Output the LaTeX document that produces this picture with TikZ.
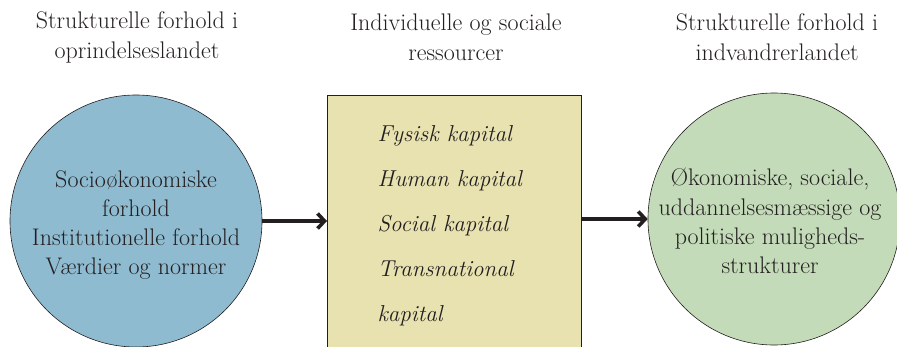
\documentclass[tikz,border=0pt]{standalone}
\usepackage{fontspec}
\usetikzlibrary{arrows.meta}
\definecolor{cblue}{HTML}{8FBBD1}
\definecolor{cyell}{HTML}{E8E2B0}
\definecolor{cgreen}{HTML}{C3DBB8}
\definecolor{ink}{HTML}{231F20}
\begin{document}
\begin{tikzpicture}[x=1pt,y=-1pt,
  heading/.style={align=center,font=\fontsize{24}{30}\selectfont,text=ink},
  bigcirc/.style={circle,draw=ink,line width=0.6pt,minimum size=252pt,inner sep=0pt},
  ctext/.style={align=center,font=\fontsize{24}{29.2}\selectfont,text=ink},
  conn/.style={line width=3.6pt,draw=ink,-{Straight Barb[length=7pt,width=15pt]}}]
\useasboundingbox (0,0) rectangle (897,346);
\clip (0,0) rectangle (897,346);
\node[heading] (h1) at (137,37) {Strukturelle forhold i\\oprindelseslandet};
\node[heading] (h2) at (456,37) {Individuelle og sociale\\ressourcer};
\node[heading] (h3) at (777,37) {Strukturelle forhold i\\indvandrerlandet};
\node[bigcirc,fill=cblue] (L) at (136,221) {};
\node[ctext] (Lt) at (136,225) {Socioøkonomiske\\forhold\\Institutionelle forhold\\Værdier og normer};
\node[draw=ink,line width=0.6pt,fill=cyell,anchor=north west,minimum width=254pt,minimum height=280pt,inner sep=0pt] (B) at (327,95) {};
\node[anchor=north west,align=left,font=\fontsize{23}{45}\selectfont\itshape,text=ink] (Bt) at (374,122) {Fysisk kapital\\Human kapital\\Social kapital\\Transnational\\kapital};
\node[bigcirc,fill=cgreen] (R) at (774,219) {};
\node[ctext] (Rt) at (770,221) {Økonomiske, sociale,\\uddannelsesmæssige og\\politiske muligheds-\\strukturer};
\draw[conn] (L.east) -- (L.east -| B.west);
\draw[conn] (B.east |- R.west) -- (R.west);
\end{tikzpicture}
\end{document}
